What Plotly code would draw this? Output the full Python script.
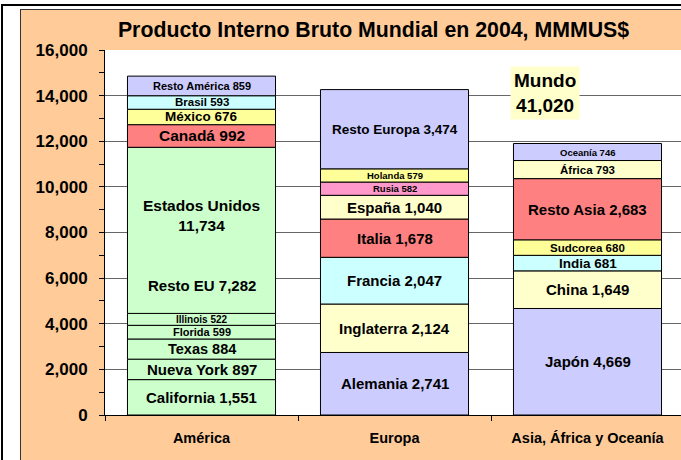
import plotly.graph_objects as go
import numpy as np

# ---------------- data ----------------
categories = ["América", "Europa", "Asia, África y Oceanía"]

america_names = ["California", "Nueva York", "Texas", "Florida", "Illinois",
                 "Resto EU", "Canadá", "México", "Brasil", "Resto América"]
america_values = [1551, 897, 884, 599, 522, 7282, 992, 676, 593, 859]

europa_names = ["Alemania", "Inglaterra", "Francia", "Italia", "España",
                "Rusia", "Holanda", "Resto Europa"]
europa_values = [2741, 2124, 2047, 1678, 1040, 582, 579, 3474]

asia_names = ["Japón", "China", "India", "Sudcorea", "Resto Asia", "África", "Oceanía"]
asia_values = [4669, 1649, 681, 680, 2683, 793, 746]

eeuu_name = "Estados Unidos"
eeuu_total = 11734
world_name = "Mundo"
world_total = 41020

y_tick_values = [0, 2000, 4000, 6000, 8000, 10000, 12000, 14000, 16000]
title_text = "Producto Interno Bruto Mundial en 2004, MMMUS$"

# ---------------- styles ----------------
LAV, CYAN, YEL, SAL, GRN, CRM, PNK = ("#CCCCFF", "#CCFFFF", "#FFFF99", "#FF8080",
                                     "#CCFFCC", "#FFFFCC", "#FF99CC")
america_colors = [GRN] * 6 + [SAL, YEL, CYAN, LAV]
europa_colors = [LAV, CRM, CYAN, SAL, CRM, PNK, YEL, LAV]
asia_colors = [LAV, CRM, CYAN, YEL, SAL, CRM, LAV]

america_sizes = [15, 15, 14.5, 11, 10, 15, 15.5, 13.5, 11.5, 11]
europa_sizes = [15, 15, 15, 15, 15, 9.5, 9.5, 13.5]
asia_sizes = [15, 15, 13.5, 11.5, 15, 11.5, 9.5]

FONT = "Arial, 'Liberation Sans', sans-serif"
PEACH = "#FFCC99"

W, H = 681, 460
L, T, B, R = 105, 50, 45, 0
plot_w = W - L - R
plot_h = H - T - B
cat_px = 193
x_range = [-0.5, -0.5 + plot_w / cat_px]
y_range = [0, 16000]
bar_width = 0.767

# label positions inside the US block (off-centre, as in the original)
resto_eu_label_y = 5690
eeuu_label_y = 8750
world_label_pos = (1.78, 14130)


def px_x(px):
    return (px - L) / plot_w


def px_y(py):
    return (H - B - py) / plot_h


fig = go.Figure()
annotations = []

groups = [
    (categories[0], america_names, america_values, america_colors, america_sizes),
    (categories[1], europa_names, europa_values, europa_colors, europa_sizes),
    (categories[2], asia_names, asia_values, asia_colors, asia_sizes),
]

for cat, names, values, colors, sizes in groups:
    vals = np.array(values, dtype=float)
    bases = np.cumsum(vals) - vals
    fig.add_trace(go.Bar(
        x=[cat] * len(values), y=values, base=bases,
        width=bar_width,
        marker=dict(color=colors, line=dict(color="black", width=1)),
        hoverinfo="skip", showlegend=False,
    ))
    for name, v, b, s in zip(names, values, bases, sizes):
        y = b + v / 2
        if name == "Resto EU":
            y = resto_eu_label_y
        annotations.append(dict(
            x=cat, y=y, xref="x", yref="y", showarrow=False,
            text=f"{name} {v:,}",
            font=dict(family=FONT, size=s, color="black", weight="bold"),
            xanchor="center", yanchor="middle",
        ))

annotations.append(dict(
    x=categories[0], y=eeuu_label_y, xref="x", yref="y", showarrow=False,
    text=f"{eeuu_name}<br>{eeuu_total:,}",
    font=dict(family=FONT, size=15.5, color="black", weight="bold"),
    xanchor="center", yanchor="middle",
))
annotations.append(dict(
    x=world_label_pos[0], y=world_label_pos[1], xref="x", yref="y", showarrow=False,
    text=f"{world_name}<br>{world_total:,}",
    font=dict(family=FONT, size=19, color="black", weight="bold"),
    bgcolor="#FFFFCC", borderpad=3, align="center",
    xanchor="center", yanchor="middle",
))

shapes = [
    # white margin strips outside the peach chart area
    dict(type="rect", xref="paper", yref="paper", x0=px_x(0), x1=px_x(20),
         y0=px_y(H), y1=px_y(0), fillcolor="white", line_width=0, layer="below"),
    dict(type="rect", xref="paper", yref="paper", x0=px_x(0), x1=px_x(W),
         y0=px_y(9), y1=px_y(0), fillcolor="white", line_width=0, layer="below"),
    # black outer frame lines
    dict(type="line", xref="paper", yref="paper", x0=px_x(2), x1=px_x(2),
         y0=px_y(4), y1=px_y(H), line=dict(color="black", width=2)),
    dict(type="line", xref="paper", yref="paper", x0=px_x(1), x1=px_x(W),
         y0=px_y(5), y1=px_y(5), line=dict(color="black", width=2)),
    # thin border of the peach chart area
    dict(type="line", xref="paper", yref="paper", x0=px_x(20.5), x1=px_x(20.5),
         y0=px_y(9), y1=px_y(H), line=dict(color="#333333", width=1)),
    dict(type="line", xref="paper", yref="paper", x0=px_x(20), x1=px_x(W),
         y0=px_y(9.5), y1=px_y(9.5), line=dict(color="#333333", width=1)),
]

fig.update_layout(
    width=W, height=H,
    margin=dict(l=L, r=R, t=T, b=B, pad=0),
    paper_bgcolor=PEACH, plot_bgcolor="white",
    barmode="overlay",
    font=dict(family=FONT, color="black"),
    title=dict(text=title_text, x=373.5 / W, xref="container", xanchor="center",
               y=1 - 29.5 / H, yref="container", yanchor="middle",
               font=dict(family=FONT, size=21.3, color="black", weight="bold")),
    annotations=annotations,
    shapes=shapes,
    xaxis=dict(
        type="category", categoryorder="array", categoryarray=categories,
        range=x_range, showline=True, linecolor="black", linewidth=1,
        ticks="outside", ticklen=5, tickcolor="black", tickson="boundaries",
        showgrid=False, zeroline=False, fixedrange=True,
        tickfont=dict(family=FONT, size=14.5, color="black", weight="bold"),
        ticklabelstandoff=10,
    ),
    yaxis=dict(
        range=y_range, tickvals=y_tick_values, tickformat=",d",
        showline=True, linecolor="black", linewidth=1,
        ticks="outside", ticklen=5, tickcolor="black",
        minor=dict(dtick=1000, ticks="outside", ticklen=5, tickcolor="black", showgrid=False),
        showgrid=True, gridcolor="#666666", gridwidth=1, zeroline=False,
        tickfont=dict(family=FONT, size=17, color="black", weight="bold"),
        ticklabelstandoff=8, fixedrange=True,
    ),
)

fig.write_html(
    "out.html",
    config={"displayModeBar": False},
    post_script="document.body.style.margin='0';document.body.style.overflow='hidden';",
)
